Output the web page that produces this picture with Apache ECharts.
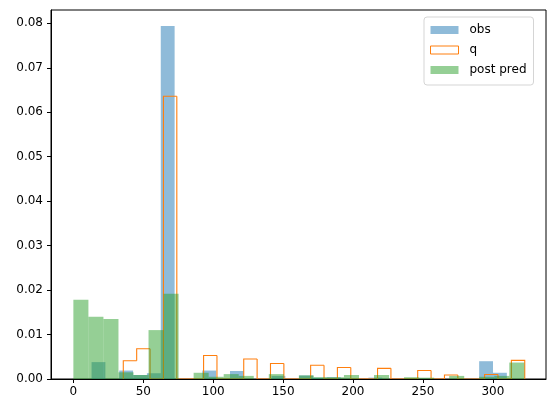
<!DOCTYPE html>
<html>
<head>
<meta charset="utf-8">
<script src="https://cdn.jsdelivr.net/npm/echarts@6/dist/echarts.min.js"></script>
<style>
html,body{margin:0;padding:0;background:#fff;}
#chart{width:556px;height:413px;}
</style>
</head>
<body>
<div id="chart"></div>
<script>
// Histogram bins: start, bin width, and 30 density values per series
const obsStart = 13, obsWidth = 9.9;
const obsValues = [0.0038, 0, 0.0019, 0.0009, 0.0013, 0.0794, 0, 0, 0.0019, 0,
                   0.0018, 0, 0, 0.0007, 0, 0.0008, 0.0003, 0.0004, 0, 0,
                   0.0003, 0, 0, 0, 0, 0, 0, 0.0002, 0.0040, 0.0014];

const qStart = 35.7, qWidth = 9.57;
const qValues = [0.0041, 0.0068, 0, 0.0636, 0, 0, 0.0053, 0, 0, 0.0045,
                 0, 0.0035, 0, 0, 0.0031, 0, 0.0026, 0, 0, 0.0024,
                 0, 0, 0.0019, 0, 0.0009, 0, 0, 0.0010, 0, 0.0042];

const predStart = 0, predWidth = 10.75;
const predValues = [0.0178, 0.0140, 0.0135, 0.0015, 0.0009, 0.0110, 0.0192, 0, 0.0014, 0.0005,
                    0.0011, 0.0007, 0, 0.0011, 0, 0.0008, 0.0004, 0.0004, 0.0009, 0,
                    0.0009, 0, 0.0004, 0.0003, 0, 0.0007, 0, 0.0005, 0.0007, 0.0037];

const xTicks = [0, 50, 100, 150, 200, 250, 300];
const yTicks = [0, 0.01, 0.02, 0.03, 0.04, 0.05, 0.06, 0.07, 0.08];

function binData(start, width, vals) {
  return vals.map((v, i) => [start + i * width, start + (i + 1) * width, v, i > 0 ? vals[i - 1] : 0]);
}

const FONT = 'DejaVu Sans';
const obsColor = 'rgba(31,119,180,0.5)';
const predColor = 'rgba(44,160,44,0.5)';
const qColor = '#ff7f0e';

function barRender(color) {
  return function (params, api) {
    const h = api.value(2);
    if (!h) return null;
    const p0 = api.coord([api.value(0), h]);
    const p1 = api.coord([api.value(1), 0]);
    return {
      type: 'rect',
      shape: { x: p0[0], y: p0[1], width: p1[0] - p0[0], height: p1[1] - p0[1] },
      style: { fill: color }
    };
  };
}

function stepRender(params, api) {
  const s = api.value(0), e = api.value(1), h = api.value(2), prev = api.value(3);
  const pts = [api.coord([s, prev]), api.coord([s, h]), api.coord([e, h])];
  if (params.dataIndex === qValues.length - 1) pts.push(api.coord([e, 0]));
  return {
    type: 'polyline',
    shape: { points: pts },
    style: { stroke: qColor, lineWidth: 1.1, fill: null }
  };
}

const chart = echarts.init(document.getElementById('chart'), null, { renderer: 'canvas' });
chart.setOption({
  animation: false,
  backgroundColor: '#fff',
  textStyle: { fontFamily: FONT },
  grid: {
    left: 51, right: 10, top: 10, bottom: 34,
    show: true, borderColor: '#000', borderWidth: 1, backgroundColor: 'transparent'
  },
  xAxis: {
    type: 'value', min: -16, max: 338,
    splitLine: { show: false },
    axisLine: { show: true, onZero: false, lineStyle: { color: '#000', width: 1 } },
    axisTick: { show: true, length: 4, lineStyle: { color: '#000' }, customValues: xTicks },
    axisLabel: { color: '#000', fontSize: 12, fontFamily: FONT, margin: 7, customValues: xTicks,
                 formatter: v => String(v) }
  },
  yAxis: {
    type: 'value', min: 0, max: 0.083,
    splitLine: { show: false },
    axisLine: { show: true, onZero: false, lineStyle: { color: '#000', width: 1 } },
    axisTick: { show: true, length: 4, lineStyle: { color: '#000' }, customValues: yTicks },
    axisLabel: { color: '#000', fontSize: 12, fontFamily: FONT, margin: 8, customValues: yTicks,
                 formatter: v => v.toFixed(2) }
  },
  legend: {
    orient: 'vertical', left: 424, top: 17,
    padding: [6, 7, 8, 6],
    backgroundColor: 'rgba(255,255,255,0.8)',
    borderColor: '#d5d5d5', borderWidth: 1, borderRadius: 3,
    itemWidth: 28, itemHeight: 8, itemGap: 6,
    textStyle: { fontSize: 12, fontFamily: FONT, color: '#000', lineHeight: 14, padding: [0, 0, 0, 6] },
    data: [
      { name: 'obs', icon: 'rect', itemStyle: { color: obsColor, borderWidth: 0 } },
      { name: 'q', icon: 'rect', itemStyle: { color: '#fff', borderColor: qColor, borderWidth: 1 } },
      { name: 'post pred', icon: 'rect', itemStyle: { color: predColor, borderWidth: 0 } }
    ]
  },
  series: [
    {
      name: 'obs', type: 'custom', renderItem: barRender(obsColor),
      itemStyle: { color: obsColor },
      encode: { x: [0, 1], y: 2 },
      data: binData(obsStart, obsWidth, obsValues), clip: true, z: 2
    },
    {
      name: 'q', type: 'custom', renderItem: stepRender,
      itemStyle: { color: qColor },
      encode: { x: [0, 1], y: 2 },
      data: binData(qStart, qWidth, qValues), clip: true, z: 3
    },
    {
      name: 'post pred', type: 'custom', renderItem: barRender(predColor),
      itemStyle: { color: predColor },
      encode: { x: [0, 1], y: 2 },
      data: binData(predStart, predWidth, predValues), clip: true, z: 4
    }
  ]
});
</script>
</body>
</html>
